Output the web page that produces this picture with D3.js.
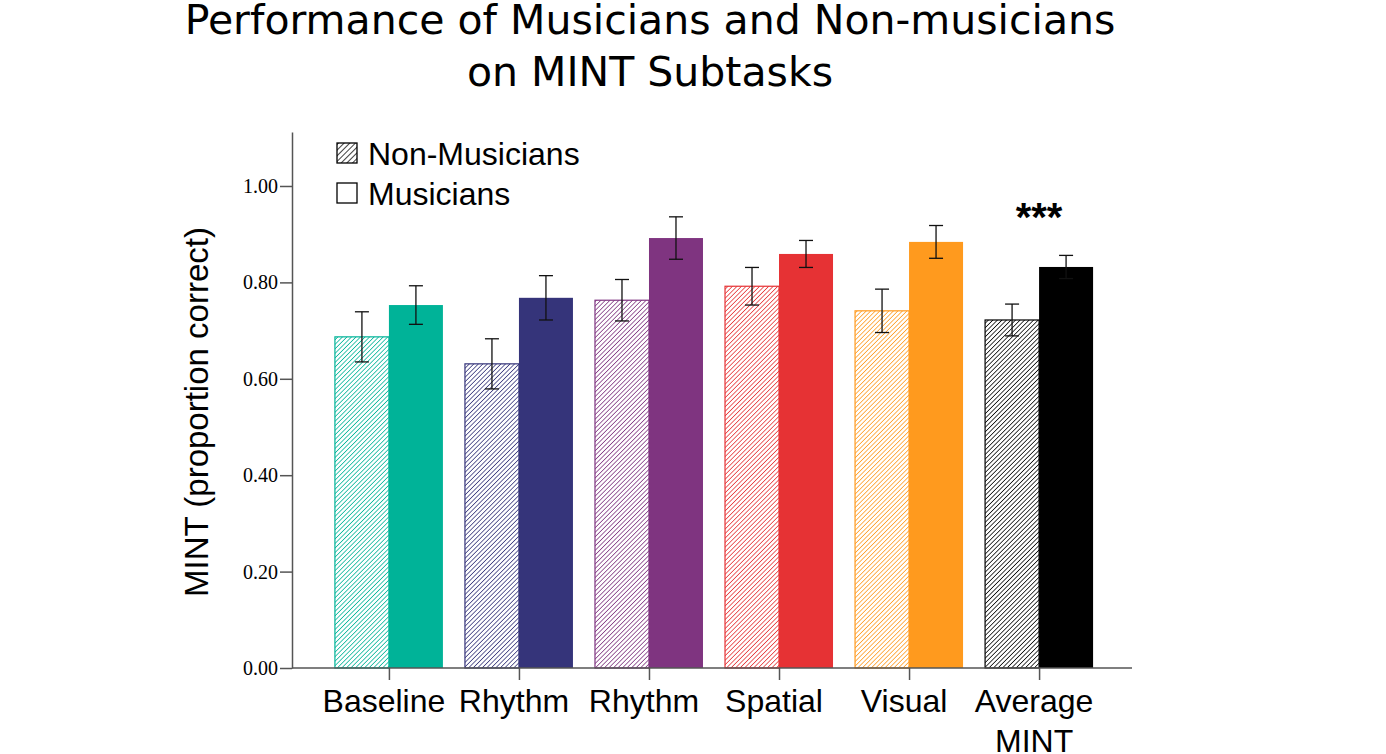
<!DOCTYPE html>
<meta charset="utf-8">
<style>
body { margin: 0; background: #fff; }
.tick text { font-family: "Liberation Serif", serif; font-size: 20px; fill: #000; }
.domain, .tick line { stroke: #555; stroke-width: 1.5px; }
</style>
<body>
<script src="https://d3js.org/d3.v7.min.js"></script>
<script>

// data
var categories = ["Baseline", "Rhythm", "Rhythm", "Spatial", "Visual", "Average MINT"];
var nonMusicians = [0.687, 0.631, 0.763, 0.792, 0.741, 0.722];
var nonMusiciansErr = [0.052, 0.052, 0.043, 0.039, 0.045, 0.033];
var musicians = [0.753, 0.768, 0.892, 0.859, 0.884, 0.832];
var musiciansErr = [0.040, 0.046, 0.044, 0.028, 0.034, 0.024];
var colors = ["#00b398", "#35347a", "#7f3480", "#e63234", "#ff9a1e", "#000000"];
var yTicks = [0, 0.2, 0.4, 0.6, 0.8, 1.0];

var W = 1386, H = 754;
var svg = d3.select("body").append("svg").attr("width", W).attr("height", H);

var x = d3.scalePoint().domain(d3.range(categories.length)).range([294, 1134]).padding(0.73);
var y = d3.scaleLinear().domain([0, 1.112]).range([668, 132]);
var barW = 54;

// hatch patterns, one per colour
var defs = svg.append("defs");
function hatch(id, c, s, w) {
  var p = defs.append("pattern")
      .attr("id", id)
      .attr("patternUnits", "userSpaceOnUse")
      .attr("width", s).attr("height", s)
      .attr("patternTransform", "rotate(45)");
  p.append("rect").attr("width", s).attr("height", s).attr("fill", "#fff");
  p.append("line").attr("x1", 0).attr("y1", 0).attr("x2", 0).attr("y2", s)
      .attr("stroke", c).attr("stroke-width", w);
}
colors.forEach(function(c, i) { hatch("hatch" + i, c, 3.2, 1.5); });
hatch("hatchLegend", "#000", 4, 1.5);

// title
svg.append("text")
    .attr("text-anchor", "middle")
    .style("font-family", "DejaVu Sans, sans-serif").style("font-size", "41px")
  .selectAll("tspan")
  .data(["Performance of Musicians and Non-musicians", "on MINT Subtasks"])
  .enter().append("tspan")
    .attr("x", 650)
    .attr("y", function(d, i) { return 34 + i * 52; })
    .text(function(d) { return d; });

// bars
var groups = svg.append("g").selectAll("g")
  .data(categories)
  .enter().append("g");

groups.append("rect")
    .attr("x", function(d, i) { return x(i) - barW; })
    .attr("y", function(d, i) { return y(nonMusicians[i]); })
    .attr("width", barW)
    .attr("height", function(d, i) { return y(0) - y(nonMusicians[i]); })
    .attr("fill", function(d, i) { return "url(#hatch" + i + ")"; })
    .attr("stroke", function(d, i) { return colors[i]; })
    .attr("stroke-width", 1.2);

groups.append("rect")
    .attr("x", function(d, i) { return x(i); })
    .attr("y", function(d, i) { return y(musicians[i]); })
    .attr("width", barW)
    .attr("height", function(d, i) { return y(0) - y(musicians[i]); })
    .attr("fill", function(d, i) { return colors[i]; });

// error bars
function errBar(sel, vals, errs, dx) {
  sel.each(function(d, i) {
    var g = d3.select(this), cx = x(i) + dx;
    var top = y(vals[i] + errs[i]), bot = y(vals[i] - errs[i]);
    g.append("line").attr("x1", cx).attr("x2", cx).attr("y1", top).attr("y2", bot)
        .attr("stroke", "#111").attr("stroke-width", 1.3);
    [top, bot].forEach(function(yy) {
      g.append("line").attr("x1", cx - 7).attr("x2", cx + 7).attr("y1", yy).attr("y2", yy)
          .attr("stroke", "#111").attr("stroke-width", 1.3);
    });
  });
}
errBar(groups, nonMusicians, nonMusiciansErr, -barW / 2);
errBar(groups, musicians, musiciansErr, barW / 2);

// significance marker
svg.append("text")
    .attr("x", x(5)).attr("y", 231)
    .attr("text-anchor", "middle")
    .style("font-family", "Liberation Sans, Arial, sans-serif")
    .style("font-size", "40px").style("font-weight", "bold")
    .text("***");

// y axis
svg.append("g")
    .attr("transform", "translate(292,0)")
    .call(d3.axisLeft(y).tickValues(yTicks).tickFormat(d3.format(".2f")).tickSize(12).tickPadding(2).tickSizeOuter(0));

// x axis
var xAxis = svg.append("g")
    .attr("transform", "translate(0,668)")
    .call(d3.axisBottom(x).tickSize(12).tickSizeOuter(0).tickFormat(""));
xAxis.select(".domain").attr("d", "M292,0H1132");

svg.append("g").selectAll("text")
  .data(categories)
  .enter().append("text")
    .attr("text-anchor", "middle")
    .style("font-family", "Liberation Sans, Arial, sans-serif")
    .style("font-size", "32px")
  .each(function(d, i) {
    var t = d3.select(this);
    d.split(" ").forEach(function(w, j) {
      t.append("tspan").attr("x", x(i) - 5).attr("y", 712 + j * 40).text(w);
    });
  });

// y axis label
svg.append("text")
    .attr("transform", "translate(208,412) rotate(-90)")
    .attr("text-anchor", "middle")
    .style("font-family", "Liberation Sans, Arial, sans-serif")
    .style("font-size", "33px")
    .text("MINT (proportion correct)");

// legend
var legend = [
  {label: "Non-Musicians", fill: "url(#hatchLegend)", y: 143},
  {label: "Musicians", fill: "#fff", y: 183}
];
var lg = svg.append("g").selectAll("g").data(legend).enter().append("g");
lg.append("rect")
    .attr("x", 337).attr("y", function(d) { return d.y; })
    .attr("width", 20).attr("height", 20)
    .attr("fill", function(d) { return d.fill; })
    .attr("stroke", "#000").attr("stroke-width", 1.3);
lg.append("text")
    .attr("x", 368).attr("y", function(d) { return d.y + 22; })
    .style("font-family", "Liberation Sans, Arial, sans-serif")
    .style("font-size", "32px")
    .text(function(d) { return d.label; });

</script>
</body>
